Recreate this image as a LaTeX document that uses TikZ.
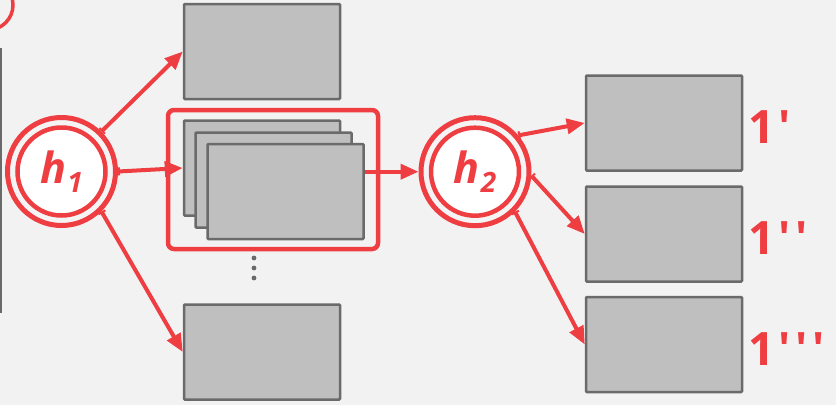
\documentclass[tikz,border=0pt]{standalone}
\usepackage{fontspec}
\setmainfont{Open Sans}
\usetikzlibrary{arrows.meta}
\definecolor{hred}{HTML}{EE3E42}
\definecolor{boxfill}{HTML}{BFBFBF}
\definecolor{boxline}{HTML}{6A6A6A}
\definecolor{bg}{HTML}{F2F2F2}
\definecolor{gap}{HTML}{F4F4F4}
\tikzset{
  blk/.style={draw=boxline, fill=boxfill, line width=2.5pt, minimum width=156pt,
    minimum height=95pt, inner sep=0pt, rounded corners=1pt},
  hout/.style={circle, draw=hred, fill=gap, line width=5pt, minimum size=108pt, inner sep=0pt},
  hin/.style={circle, draw=hred, fill=white, line width=4.5pt, minimum size=88pt, inner sep=0pt,
    text=hred, font=\fontsize{43}{43}\selectfont\bfseries\itshape},
  tip/.style={-{Triangle[length=18pt,width=15pt]}},
  arr/.style={draw=hred, line width=4pt,
    {Bar[width=8pt,line width=2pt]}-{Triangle[length=18pt,width=15pt]}},
  tag/.style={text=hred, anchor=base west, inner sep=0pt,
    font=\fontsize{46}{46}\selectfont\bfseries},
}
\newcommand{\pr}{\textquotesingle}
\begin{document}
\begin{tikzpicture}[x=1pt,y=-1pt]
  \fill[bg] (0,0) rectangle (836,405);
  \useasboundingbox (0,0) rectangle (836,405);
  \clip (0,0) rectangle (836,405);

  % neighbouring elements cut at the left border
  \draw[hred, line width=3.5pt] (-12,5) circle (25);
  \draw[boxline, line width=2.5pt] (1,48) -- (1,313);

  % first level buckets
  \node[blk] (tb) at (262,51.5) {};
  \node[blk] (s1) at (262,168) {};
  \node[blk] (s2) at (273.5,180) {};
  \node[blk] (s3) at (285.5,191.5) {};
  \node[blk] (bb) at (262,352) {};
  \draw[hred, line width=4.5pt, rounded corners=6pt] (168,110) rectangle (378,249);
  \foreach \yy in {258,268,278} \fill[boxline] (254,\yy) circle (2.4);

  % second level buckets
  \node[blk] (r1) at (664,123) {};
  \node[blk] (r2) at (664,234) {};
  \node[blk] (r3) at (664,344.5) {};
  \node[tag] (l1) at (748,143) {1\hspace{4pt}\pr};
  \node[tag] (l2) at (748,254) {1\hspace{4pt}\pr\hspace{5pt}\pr};
  \node[tag] (l3) at (748,365) {1\hspace{4pt}\pr\hspace{5pt}\pr\hspace{5pt}\pr};

  % hash functions
  \node[hout] (h1) at (61.5,171.5) {};
  \node[hin] (h1i) at (h1) {h\kern1pt\raisebox{-9pt}{\fontsize{28}{28}\selectfont 1}};
  \node[hout] (h2) at (475,171.7) {};
  \node[hin] (h2i) at (h2) {h\kern1pt\raisebox{-9pt}{\fontsize{28}{28}\selectfont 2}};

  % connectors
  \draw[arr] (h1.45) -- (tb.west);
  \draw[arr] (h1.0) -- (s1.west);
  \draw[arr] (h1.-45) -- (bb.west);
  \draw[draw=hred, line width=4pt, tip] (s3.east |- h2.west) -- (h2.west);
  \draw[arr] (h2.40) -- (r1.west);
  \draw[arr] (h2.-4) -- (r2.west);
  \draw[arr] (h2.-45) -- (r3.west);
\end{tikzpicture}
\end{document}
